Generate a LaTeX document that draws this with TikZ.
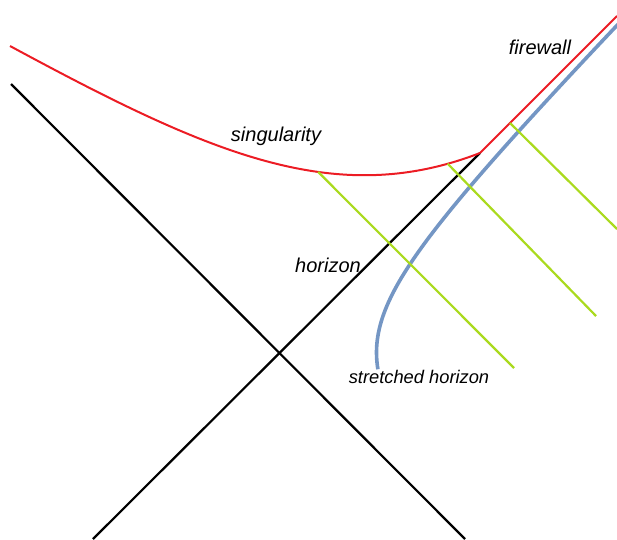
\documentclass[tikz,border=0pt]{standalone}
\usepackage{fontspec}
\setmainfont{Liberation Sans}
\begin{document}
\begin{tikzpicture}[x=1pt,y=-1pt,
  horiz/.style={line width=2.2pt,black},
  sing/.style={line width=2pt,color=sred},
  stretched/.style={line width=3.6pt,color=sblue},
  ray/.style={line width=2.2pt,color=sgreen},
  lbl/.style={font=\itshape\fontsize{20}{20}\selectfont,inner sep=0pt},
  lbls/.style={font=\itshape\fontsize{18.3}{18}\selectfont,inner sep=0pt}]
\definecolor{sred}{RGB}{236,28,36}
\definecolor{sblue}{RGB}{116,150,196}
\definecolor{sgreen}{RGB}{170,218,30}
\useasboundingbox (0,0) rectangle (617,539);
\begin{scope}
\clip (0,0) rectangle (617,539);
% horizons
\coordinate (h1a) at (11,84);
\coordinate (h1b) at (465,539);
\coordinate (h2a) at (93,539);
\coordinate (h2b) at (480,153);
\draw[horiz] (h1a) -- (h1b);
\draw[horiz] (h2a) -- (h2b);
% stretched horizon
\draw[stretched,domain=-0.17:1.98,samples=80,smooth,variable=\t]
  plot ({279.5+97*cosh(\t)},{352.5-97*sinh(\t)-0.012*(97*sinh(\t))});
% singularity + firewall
\coordinate (s0) at (10,46);
\coordinate (fw) at (617,16);
\draw[sing] (s0) .. controls (210,154) and (335,209) .. (h2b)
  coordinate[pos=0.62] (g1a) coordinate[pos=0.925] (g2a);
\draw[sing] (h2b) -- (fw) coordinate[pos=0.219] (g3a);
% rays
\coordinate (g1b) at (514,368);
\coordinate (g2b) at (596,316);
\coordinate (g3b) at (617,229);
\draw[ray] (g1a) -- (g1b);
\draw[ray] (g2a) -- (g2b);
\draw[ray] (g3a) -- (g3b);
\end{scope}
% labels
\node[lbl] (lsing) at (276,136) {singularity};
\node[lbl] (lfw) at (540,47) {firewall};
\node[lbl] (lhor) at (328,265) {horizon};
\node[lbls] (lstr) at (419,377) {stretched horizon};
\end{tikzpicture}
\end{document}
